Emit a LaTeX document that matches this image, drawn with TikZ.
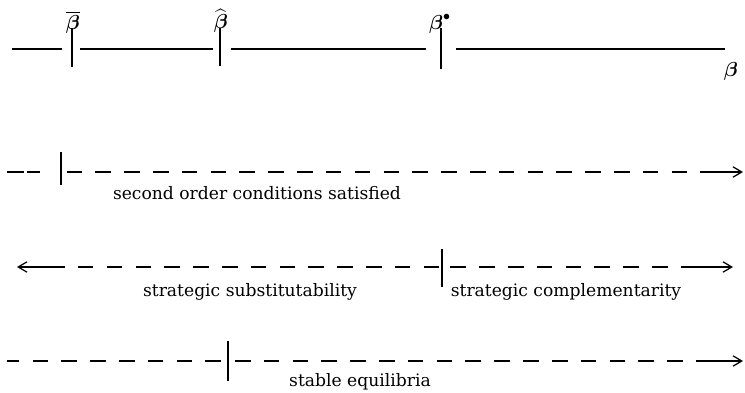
\documentclass[tikz,border=0pt]{standalone}
\usepackage{amsmath,amssymb}
\usepackage{fontspec}
\newfontfamily\labelfont{DejaVu Serif}
\usetikzlibrary{positioning, arrows.meta}

\begin{document}
\begin{tikzpicture}[
    x=0.025cm, y=-0.025cm,
    >={Straight Barb[length=2.2mm, width=2.6mm, line width=0.9pt]},
    axis/.style={line width=0.9pt},
    tickmark/.style={line width=0.8pt},
    dashrange/.style={line width=1pt, dash pattern=on 0.39cm off 0.33cm},
    lbl/.style={font=\labelfont\fontsize{12.2}{14}\selectfont, inner sep=1pt},
    sym/.style={font=\fontsize{14}{16}\selectfont, inner sep=1pt},
]
\useasboundingbox (0,0) rectangle (745,393);

% Parameter axis
\coordinate (a0) at (12,49);
\coordinate (bbar) at (72,49);
\coordinate (bhat) at (220,49);
\coordinate (bstar) at (441,49);
\coordinate (a1) at (725,49);
\draw[axis] (a0) -- ([xshift=-7]bbar);
\draw[axis] ([xshift=6]bbar) -- ([xshift=-5]bhat);
\draw[axis] ([xshift=8]bhat) -- ([xshift=-11]bstar);
\draw[axis] ([xshift=11]bstar) -- (a1);
\draw[tickmark] ([yshift=-13]bbar) -- ([yshift=15]bbar);
\draw[tickmark] ([yshift=-12]bhat) -- ([yshift=15]bhat);
\draw[tickmark] ([yshift=-14]bstar) -- ([yshift=15]bstar);
\node[sym] (lbar) at (73,22) {$\overline{\boldsymbol{\beta}}$};
\node[sym] (lhat) at (221,21) {$\widehat{\boldsymbol{\beta}}$};
\node[sym] (lstar) at (440,24) {$\boldsymbol{\beta}^{\bullet}$};
\node[sym] (lbeta) at (731,71) {$\boldsymbol{\beta}$};

% Second order conditions
\coordinate (s0) at (7,172);
\coordinate (soc) at (61,172);
\coordinate (s1) at (743,172);
\coordinate (s2) at (703,172);
\draw[dashrange, dash pattern=on 0.43cm off 0.08cm] (s0) -- ([xshift=-15]soc);
\draw[dashrange] ([xshift=4]soc) -- (s2);
\draw[axis, ->] (s2) -- (s1);
\draw[tickmark] ([yshift=-9]soc) -- ([yshift=14]soc);
\node[lbl] (tsoc) at (257,193) {second order conditions satisfied};

% Strategic substitutes / complements
\coordinate (c0) at (17,267);
\coordinate (c2) at (58,267);
\coordinate (sc) at (442,267);
\coordinate (c3) at (693,267);
\coordinate (c1) at (733,267);
\draw[axis, ->] (c2) -- (c0);
\draw[dashrange] ([xshift=-2]sc) -- (c2);
\draw[dashrange] ([xshift=6]sc) -- (c3);
\draw[axis, ->] (c3) -- (c1);
\draw[tickmark] ([yshift=-14]sc) -- ([yshift=13]sc);
\node[lbl] (tsub) at (250,292) {strategic substitutability};
\node[lbl] (tcomp) at (566,292) {strategic complementarity};

% Stability
\coordinate (e0) at (7,361);
\coordinate (st) at (228,361);
\coordinate (e2) at (703,361);
\coordinate (e1) at (743,361);
\draw[dashrange] ([xshift=-5]st) -- (e0);
\draw[dashrange] ([xshift=5]st) -- (e2);
\draw[axis, ->] (e2) -- (e1);
\draw[tickmark] ([yshift=-14]st) -- ([yshift=14]st);
\node[lbl] (tstab) at (360,382) {stable equilibria};

\end{tikzpicture}
\end{document}
